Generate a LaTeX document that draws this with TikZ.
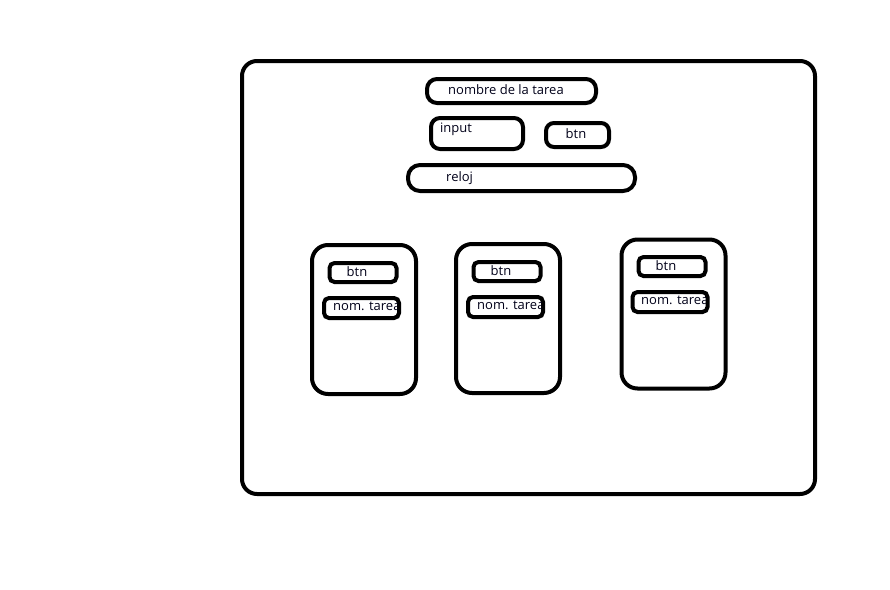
\documentclass[tikz,border=0pt]{standalone}
\usepackage{fontspec}
\setmainfont{Open Sans}
\begin{document}
\begin{tikzpicture}[x=1pt,y=-1pt,
  frame/.style={draw=black,line width=4pt,rounded corners=#1,inner sep=0pt,fill=white},
  frame/.default=10pt,
  lbl/.style={inner sep=0pt,font=\fontsize{13}{15}\selectfont,text=black!90!blue}]
\useasboundingbox (0,0) rectangle (890,589);
% outer
\node[frame=15pt,minimum width=573pt,minimum height=433pt] (outer) at (528.5,277.5) {};
% top
\node[frame=10pt,minimum width=169pt,minimum height=24pt] (nombre) at (511.5,91) {};
\node[lbl,anchor=west] (tnombre) at (448,90) {nombre de la tarea};
\node[frame=9pt,minimum width=92pt,minimum height=31pt] (input) at (477,133.5) {};
\node[lbl,anchor=west] (tinput) at (440,129) {input};
\node[frame=8pt,minimum width=63pt,minimum height=24pt] (btn) at (577.5,135) {};
\node[lbl] (tbtn) at (576,134) {btn};
\node[frame=12pt,minimum width=227pt,minimum height=26pt] (reloj) at (521.5,178) {};
\node[lbl,anchor=west] (treloj) at (446,178) {reloj};
% cards
\foreach \n/\cx/\cy/\bx/\by/\nx/\ny/\tx in {1/364/319.5/363/272.5/361.5/308/333, 2/508/318.5/507/271.5/505.5/307/477, 3/673.5/314/672/266.5/670/302/641}{
  \node[frame=16pt,minimum width=104pt,minimum height=149pt] (card\n) at (\cx,\cy) {};
  \node[frame=5pt,minimum width=67pt,minimum height=19pt] (cbtn\n) at (\bx,\by) {};
  \node[lbl] (tcbtn\n) at (\bx-6,\by-1) {btn};
  \node[frame=5pt,minimum width=75pt,minimum height=20pt] (cnom\n) at (\nx,\ny) {};
  \begin{scope}
    \clip (\nx-35.5,\ny-8) rectangle (\nx+35.5,\ny+8);
    \node[lbl,anchor=west] (tcnom\n) at (\tx,\ny-2) {nom. tarea};
  \end{scope}
}
\end{tikzpicture}
\end{document}
